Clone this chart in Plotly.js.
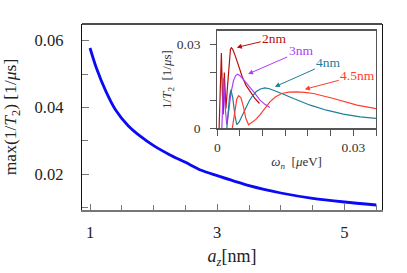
<!DOCTYPE html>
<html>
<head>
<meta charset="utf-8">
<script src="https://cdn.plot.ly/plotly-3.0.1.min.js"></script>
<style>html,body{margin:0;padding:0;background:#fff;}#chart{width:407px;height:273px;}</style>
</head>
<body>
<div id="chart"></div>
<script>
// Main panel: max(1/T2) vs a_z
const az = [1.0, 1.1, 1.25, 1.4, 1.6, 1.8, 2.0, 2.25, 2.5, 2.75, 3.0, 3.5, 4.0, 4.5, 5.0, 5.5];
const maxRate = [0.0578, 0.0518, 0.0448, 0.0393, 0.0345, 0.0312, 0.0285, 0.0258, 0.0235, 0.0211, 0.0195, 0.0165, 0.0143, 0.0127, 0.0116, 0.0107];

// Inset: 1/T2 vs omega_n for several a_z
const w2nm = [0.0004, 0.0007, 0.0009, 0.0011, 0.0013, 0.00155, 0.0017, 0.0019, 0.0022, 0.0026, 0.0029, 0.0031, 0.0034, 0.0040, 0.0047, 0.0055, 0.0063, 0.0072, 0.0082, 0.0093];
const r2nm = [0.0, 0.016, 0.027, 0.014, 0.005, 0.020, 0.012, 0.007, 0.014, 0.0245, 0.0284, 0.0289, 0.0283, 0.0258, 0.0222, 0.0185, 0.0155, 0.0132, 0.0109, 0.0089];

const w3nm = [0.0010, 0.0012, 0.0014, 0.0017, 0.0021, 0.0025, 0.0030, 0.0036, 0.0041, 0.0045, 0.0050, 0.0056, 0.0064, 0.0072, 0.0083, 0.0094, 0.0105, 0.0116];
const r3nm = [0.0, 0.010, 0.018, 0.008, 0.0013, 0.006, 0.0125, 0.0173, 0.0190, 0.0194, 0.0189, 0.0178, 0.0163, 0.0149, 0.0125, 0.0101, 0.0086, 0.0075];

const w4nm = [0.0021, 0.0024, 0.0027, 0.0030, 0.0034, 0.0039, 0.0043, 0.0048, 0.0055, 0.0062, 0.0070, 0.0077, 0.0086, 0.0095, 0.0105, 0.0115, 0.0128, 0.0142, 0.0168, 0.0205, 0.0241, 0.0278, 0.0315, 0.0350];
const r4nm = [0.0, 0.006, 0.0115, 0.0138, 0.0110, 0.0045, 0.0013, 0.0022, 0.0048, 0.0073, 0.0097, 0.0115, 0.0132, 0.0141, 0.0145, 0.0142, 0.0135, 0.0125, 0.0107, 0.0083, 0.0065, 0.0051, 0.0041, 0.0036];

const w45nm = [0.0033, 0.0038, 0.0043, 0.0047, 0.0052, 0.0058, 0.0063, 0.0069, 0.0078, 0.0085, 0.0094, 0.0105, 0.0116, 0.0128, 0.0142, 0.0158, 0.0175, 0.0193, 0.0212, 0.0256, 0.0308, 0.0350];
const r45nm = [0.0, 0.006, 0.0105, 0.0117, 0.0110, 0.0075, 0.0035, 0.0013, 0.0022, 0.0032, 0.0048, 0.0072, 0.0095, 0.0112, 0.0125, 0.0130, 0.0131, 0.0129, 0.0125, 0.0107, 0.0083, 0.0071];

const seriesNames = ['2nm', '3nm', '4nm', '4.5nm'];
const seriesColors = ['#b80f0f', '#b03cf5', '#1d7f94', '#ff3d2e'];

const mainYTicks = [0.02, 0.04, 0.06];
const mainYText = ['0.02', '0.04', '0.06'];
const mainXTicks = [1, 3, 5];
const mainXText = ['1', '3', '5'];
const insetXTicks = [0, 0.03];
const insetXText = ['0', '0.03'];
const insetYTicks = [0, 0.03];
const insetYText = ['0', '0.03'];

const serif = 'Liberation Serif, DejaVu Serif, serif';

const traces = [
  {x: az, y: maxRate, xaxis: 'x', yaxis: 'y', mode: 'lines', line: {color: '#0a0af5', width: 2.8, shape: 'spline', smoothing: 0.8}, showlegend: false, hoverinfo: 'skip'},
];
const insetX = [w2nm, w3nm, w4nm, w45nm];
const insetY = [r2nm, r3nm, r4nm, r45nm];
for (let i = 0; i < 4; i++) {
  traces.push({x: insetX[i], y: insetY[i], xaxis: 'x2', yaxis: 'y2', mode: 'lines', name: seriesNames[i],
    line: {color: seriesColors[i], width: 1.2}, showlegend: false, hoverinfo: 'skip'});
}

// arrow heads (data coords on the inset) and text offsets (px)
const arrowHeads = [[0.0043, 0.0290], [0.0068, 0.0195], [0.0127, 0.0149], [0.0193, 0.0140]];
const arrowOffsets = [[38, -9], [53, -23], [54, -24], [53, -14]];
const annotations = [];
for (let i = 0; i < 4; i++) {
  annotations.push({
    x: arrowHeads[i][0], y: arrowHeads[i][1], xref: 'x2', yref: 'y2',
    ax: arrowOffsets[i][0], ay: arrowOffsets[i][1], axref: 'pixel', ayref: 'pixel',
    text: seriesNames[i], showarrow: true, arrowhead: 2, arrowsize: 1, arrowwidth: 1,
    arrowcolor: seriesColors[i], font: {family: serif, size: 13.5, color: seriesColors[i]}
  });
}

const layout = {
  width: 407, height: 273,
  margin: {l: 82, r: 25, t: 24, b: 63},
  paper_bgcolor: '#fff', plot_bgcolor: '#fff',
  font: {family: serif, color: '#222'},
  xaxis: {
    domain: [0, 1], range: [0.874, 5.59], tickvals: mainXTicks, ticktext: mainXText,
    ticks: 'inside', ticklen: 6, tickcolor: '#777', tickwidth: 1,
    minor: {tick0: 1, dtick: 0.5, ticks: 'inside', ticklen: 5, tickcolor: '#777', tickwidth: 1},
    showline: true, linecolor: '#777', linewidth: 1.5, showgrid: false, zeroline: false,
    tickfont: {family: serif, size: 16.5, color: '#222'}, ticklabelstandoff: 7,
    title: {text: '<i>a<sub>z</sub></i>[nm]', font: {family: serif, size: 18, color: '#222'}, standoff: 8}
  },
  yaxis: {
    domain: [0, 1], range: [0.0092, 0.065], tickvals: mainYTicks, ticktext: mainYText,
    ticks: 'inside', ticklen: 7, tickcolor: '#777', tickwidth: 1,
    minor: {tick0: 0.01, dtick: 0.01, ticks: 'inside', ticklen: 6, tickcolor: '#777', tickwidth: 1},
    showline: true, linecolor: '#111', linewidth: 1.3, mirror: true, showgrid: false, zeroline: false,
    tickfont: {family: serif, size: 16.5, color: '#222'}, ticklabelstandoff: 14,
    title: {text: 'max(1/<i>T</i><sub>2</sub>) [1/<i>μ</i>s]', font: {family: serif, size: 17.5, color: '#222'}, standoff: 14}
  },
  xaxis2: {
    domain: [0.451, 0.98], anchor: 'y2', range: [0, 0.035], tickvals: insetXTicks, ticktext: insetXText,
    ticks: 'outside', ticklen: 6, tickcolor: '#555', tickwidth: 1,
    minor: {tick0: 0, dtick: 0.005, ticks: 'outside', ticklen: 6, tickcolor: '#555', tickwidth: 1},
    showline: true, linecolor: '#555', linewidth: 1.2, mirror: true, showgrid: false, zeroline: false,
    tickfont: {family: serif, size: 13.5, color: '#333'}, ticklabelstandoff: 0,
    title: {text: '<i>ω<sub>n</sub></i>  [<i>μ</i>eV]', font: {family: serif, size: 13, color: '#333'}, standoff: 3}
  },
  yaxis2: {
    domain: [0.439, 0.964], anchor: 'x2', range: [0, 0.035], tickvals: insetYTicks, ticktext: insetYText,
    ticks: 'outside', ticklen: 6, tickcolor: '#555', tickwidth: 1,
    minor: {tick0: 0, dtick: 0.01, ticks: 'outside', ticklen: 6, tickcolor: '#555', tickwidth: 1},
    showline: true, linecolor: '#555', linewidth: 1.2, mirror: true, showgrid: false, zeroline: false,
    tickfont: {family: serif, size: 13.5, color: '#333'}, ticklabelstandoff: 7,
    title: {text: '1/<i>T</i><sub>2</sub>  [1/<i>μ</i>s]', font: {family: serif, size: 13, color: '#333'}, standoff: 2}
  },
  shapes: [
    {type: 'line', xref: 'paper', yref: 'paper', x0: 0, x1: 1, y0: 1, y1: 1, line: {color: '#111', width: 1.3}}
  ],
  annotations: annotations
};

Plotly.newPlot('chart', traces, layout, {staticPlot: true, displayModeBar: false});
</script>
</body>
</html>
